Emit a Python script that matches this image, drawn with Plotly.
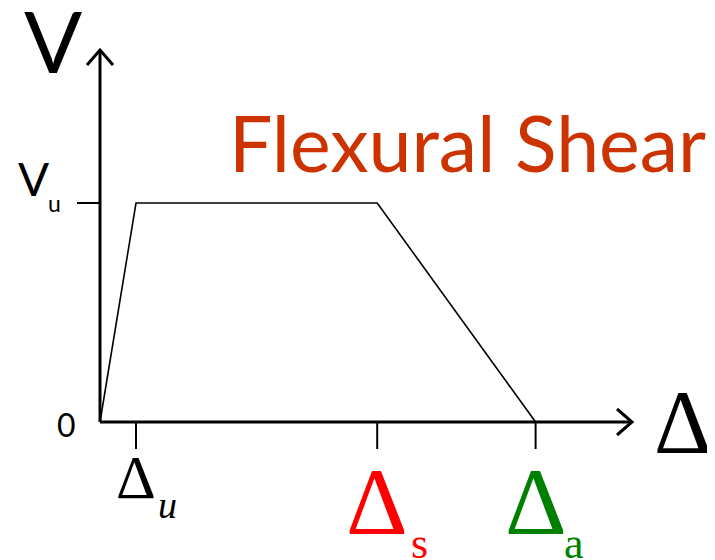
import plotly.graph_objects as go

# ---- data ----
curve_x = [0.0, 1.0, 7.7, 12.1]        # 0, Δu, Δs, Δa
curve_y = [0.0, 1.0, 1.0, 0.0]          # 0, Vu, Vu, 0
delta_vals = [1.0, 7.7, 12.1]
delta_subs = ["u", "s", "a"]
delta_colors = ["black", "#FF0000", "#008000"]
V_u = 1.0
title_text = "Flexural Shear"

# page body has an 8px margin: design in window pixels, offset into figure
OFF = 8
W, H = 715 - OFF, 560 - OFF
X0PX, XSCALE = 100 - OFF, 36.0   # figure pixel of origin, px per unit
Y0PX, YSCALE = 422 - OFF, 219.0

xr = [-X0PX / XSCALE, (W - X0PX) / XSCALE]
yr = [-(H - Y0PX) / YSCALE, Y0PX / YSCALE]

def px(x):
    return (x - OFF) / W

def py(y):
    return 1 - (y - OFF) / H

fig = go.Figure()
fig.add_trace(go.Scatter(x=curve_x, y=curve_y, mode="lines",
                         line=dict(color="black", width=1.6), hoverinfo="skip"))

shapes = []
x_tip = (632 - 100) / XSCALE
y_tip = (422 - 50) / YSCALE
shapes.append(dict(type="line", x0=0, y0=0, x1=x_tip, y1=0, xref="x", yref="y",
                   line=dict(color="black", width=3)))
shapes.append(dict(type="line", x0=0, y0=0, x1=0, y1=y_tip, xref="x", yref="y",
                   line=dict(color="black", width=3)))
shapes.append(dict(type="path", xref="x", yref="y", xsizemode="pixel", ysizemode="pixel",
                   xanchor=x_tip, yanchor=0, path="M -15 13 L 0 0 L -15 -13",
                   line=dict(color="black", width=3)))
shapes.append(dict(type="path", xref="x", yref="y", xsizemode="pixel", ysizemode="pixel",
                   xanchor=0, yanchor=y_tip, path="M -13 -15 L 0 0 L 13 -15",
                   line=dict(color="black", width=3)))
for xv in delta_vals:
    shapes.append(dict(type="line", xref="x", yref="y", ysizemode="pixel", yanchor=0,
                       x0=xv, x1=xv, y0=0, y1=-27, line=dict(color="black", width=2)))
shapes.append(dict(type="line", xref="x", yref="y", xsizemode="pixel", xanchor=0,
                   x0=-23, x1=0, y0=V_u, y1=V_u, line=dict(color="black", width=2)))

ann = []
sans = "Lato"
serif = "Liberation Serif"
ann.append(dict(text="V", x=px(53), y=py(39), xref="paper", yref="paper",
                showarrow=False, font=dict(family=sans, size=86, color="black"),
                xanchor="center", yanchor="middle"))
ann.append(dict(text="V", x=px(33), y=py(179), xref="paper", yref="paper",
                showarrow=False, font=dict(family=sans, size=46, color="black"),
                xanchor="center", yanchor="middle"))
ann.append(dict(text="u", x=px(54), y=py(203), xref="paper", yref="paper",
                showarrow=False, font=dict(family=sans, size=23, color="black"),
                xanchor="center", yanchor="middle"))
ann.append(dict(text="0", x=px(67), y=py(424), xref="paper", yref="paper",
                showarrow=False, font=dict(family=sans, size=32, color="black"),
                xanchor="center", yanchor="middle"))
ann.append(dict(text=title_text, x=px(467), y=py(142), xref="paper", yref="paper",
                showarrow=False, font=dict(family=sans, size=77, color="#CC3300"),
                xanchor="center", yanchor="middle"))
ann.append(dict(text="Δ", x=px(683), y=py(422), xref="paper", yref="paper",
                showarrow=False, font=dict(family=serif, size=90, color="black"),
                xanchor="center", yanchor="middle"))
d_sizes = [62, 96, 96]
s_sizes = [38, 44, 44]
d_ys = [477, 501, 501]
s_ys = [505, 543, 543]
s_dx = [31, 42, 38]
for xv, sub, col, ds, ss, dy, sy, sdx in zip(delta_vals, delta_subs, delta_colors,
                                             d_sizes, s_sizes, d_ys, s_ys, s_dx):
    ann.append(dict(text="Δ", x=xv, y=py(dy), xref="x", yref="paper",
                    showarrow=False, font=dict(family=serif, size=ds, color=col),
                    xanchor="center", yanchor="middle"))
    txt = "<i>u</i>" if sub == "u" else sub
    ann.append(dict(text=txt, x=xv, y=py(sy), xref="x", yref="paper", xshift=sdx,
                    showarrow=False, font=dict(family=serif, size=ss, color=col),
                    xanchor="center", yanchor="middle"))

fig.update_layout(
    width=W, height=H, margin=dict(l=0, r=0, t=0, b=0),
    paper_bgcolor="white", plot_bgcolor="white", showlegend=False,
    xaxis=dict(range=xr, visible=False, fixedrange=True),
    yaxis=dict(range=yr, visible=False, fixedrange=True),
    shapes=shapes, annotations=ann,
)
fig.write_html("out.html")
